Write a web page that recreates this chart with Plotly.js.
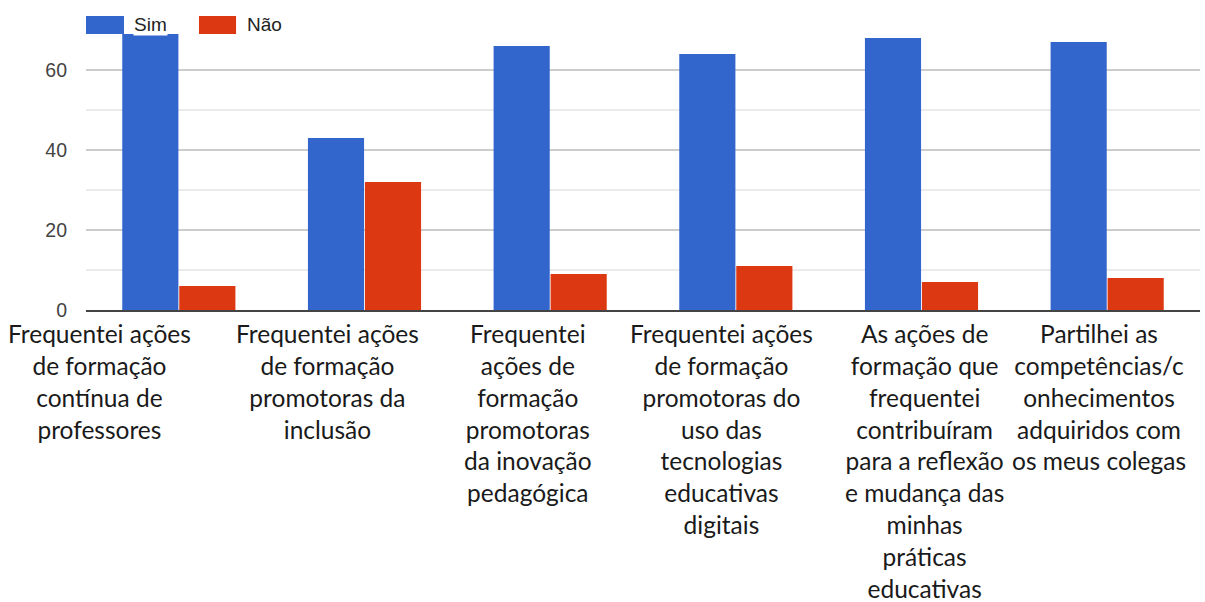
<!DOCTYPE html>
<html>
<head>
<meta charset="utf-8">
<script src="https://cdn.plot.ly/plotly-3.0.1.min.js"></script>
<style>html,body{margin:0;padding:0;background:#fff;}#chart{width:1205px;height:602px;}</style>
</head>
<body>
<div id="chart"></div>
<script>
// ---- data ----
const labelLines = [
  ["Frequentei ações", "de formação", "contínua de", "professores"],
  ["Frequentei ações", "de formação", "promotoras da", "inclusão"],
  ["Frequentei", "ações de", "formação", "promotoras", "da inovação", "pedagógica"],
  ["Frequentei ações", "de formação", "promotoras do", "uso das", "tecnologias", "educativas", "digitais"],
  ["As ações de", "formação que", "frequentei", "contribuíram", "para a reflexão", "e mudança das", "minhas", "práticas", "educativas"],
  ["Partilhei as", "competências/c", "onhecimentos", "adquiridos com", "os meus colegas"]
];
const categories = labelLines.map(l => l.join(" "));
const seriesNames = ["Sim", "Não"];
const simValues = [69, 43, 66, 64, 68, 67];
const naoValues = [6, 32, 9, 11, 7, 8];
const yTickValues = [0, 20, 40, 60];

// ---- layout helpers (styling only) ----
const colors = ["#3366cc", "#dc3912"];
const labelShift = [-79, -37, -22, -14, 3, -8];

const traces = [
  {type: "bar", name: seriesNames[0], x: categories, y: simValues, marker: {color: colors[0]}, showlegend: false},
  {type: "bar", name: seriesNames[1], x: categories, y: naoValues, marker: {color: colors[1]}, showlegend: false}
];

const annotations = categories.map((c, i) => ({
  xref: "x", yref: "paper", x: c, y: 0, yanchor: "top", xanchor: "center",
  xshift: labelShift[i], yshift: -7, showarrow: false, align: "center",
  text: labelLines[i].join("<br>"),
  font: {family: "Lato, 'Open Sans', sans-serif", size: 24.5, color: "#1a1a1a"}
}));

// custom legend (boxes + names)
const legendItems = [
  {x0: 0.0, x1: 0.0341, tx: 0.0422},
  {x0: 0.1014, x1: 0.1347, tx: 0.1436}
];
const shapes = legendItems.map((it, i) => ({
  type: "rect", xref: "paper", yref: "paper", x0: it.x0, x1: it.x1, y0: 0.986, y1: 1.05,
  fillcolor: colors[i], line: {width: 0}
}));
legendItems.forEach((it, i) => annotations.push({
  xref: "paper", yref: "paper", x: it.tx, y: 1.018, xanchor: "left", yanchor: "middle",
  showarrow: false, text: seriesNames[i], bgcolor: "#ffffff", borderpad: 0,
  font: {family: "'Liberation Sans', Arial, sans-serif", size: 19, color: "#222222"}
}));

const layout = {
  width: 1205, height: 602,
  margin: {l: 86, r: 5, t: 30, b: 292},
  paper_bgcolor: "#ffffff", plot_bgcolor: "#ffffff",
  barmode: "group", bargap: 0.386, bargroupgap: 0.015,
  showlegend: false,
  xaxis: {type: "category", range: [-0.5, categories.length - 0.5], autorange: false,
          showticklabels: false, ticks: "", showgrid: false, zeroline: false,
          showline: true, linecolor: "#444444", linewidth: 2},
  yaxis: {range: [0, 70], autorange: false, tickvals: yTickValues, ticks: "", ticklabelstandoff: 18,
          showgrid: true, gridcolor: "#cccccc", gridwidth: 1.5, zeroline: false, showline: false,
          minor: {tickvals: [10, 30, 50, 70], showgrid: true, gridcolor: "#ebebeb", gridwidth: 1.5},
          tickfont: {family: "'Liberation Sans', Arial, sans-serif", size: 19.5, color: "#444444"}},
  annotations: annotations,
  shapes: shapes
};

Plotly.newPlot("chart", traces, layout, {displayModeBar: false, staticPlot: true});
</script>
</body>
</html>
